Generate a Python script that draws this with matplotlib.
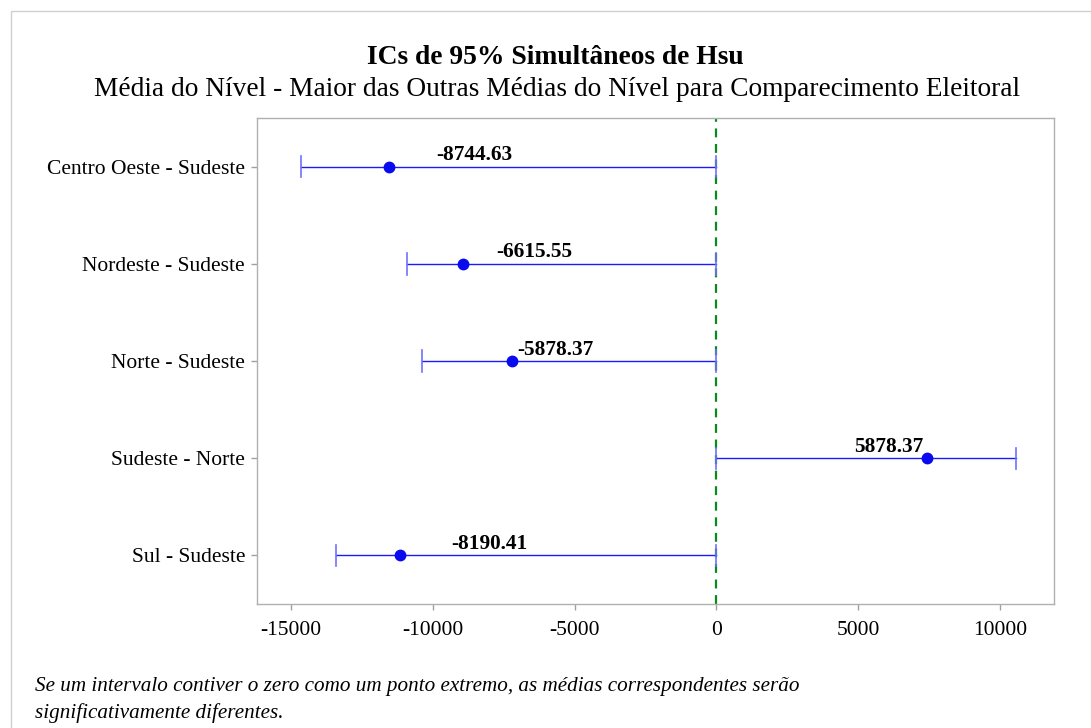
import matplotlib
matplotlib.use("Agg")
import matplotlib.pyplot as plt
from matplotlib.patches import Rectangle

# Hsu simultaneous 95% intervals: level mean minus the largest of the other means
comparisons = ["Centro Oeste - Sudeste", "Nordeste - Sudeste", "Norte - Sudeste",
               "Sudeste - Norte", "Sul - Sudeste"]
lower = [-14660, -10920, -10380, 0, -13410]
estimate = [-11540, -8920, -7210, 7420, -11170]
upper = [0, 0, 0, 10550, 0]
annot = [-8744.63, -6615.55, -5878.37, 5878.37, -8190.41]
xticks = [-15000, -10000, -5000, 0, 5000, 10000]

plt.rcParams["font.family"] = ["Liberation Serif", "DejaVu Serif"]

fig = plt.figure(figsize=(10.91, 7.28), dpi=100)
fig.patches.append(Rectangle((11 / 1091, -0.1), 1.2, 1 - 11 / 728 + 0.1,
                             transform=fig.transFigure, fill=False,
                             edgecolor="#d0d0d0", linewidth=1))

ax = fig.add_axes([0.2355, 0.1703, 0.7305, 0.6676])

blue = "#1a1aff"
capcol = "#6f6fff"
for i, name in enumerate(comparisons):
    ax.plot([lower[i], upper[i]], [i, i], color=blue, lw=1.0, zorder=3)
    for xe in (lower[i], upper[i]):
        ax.plot([xe, xe], [i - 0.11, i + 0.11], color=capcol, lw=1.2, zorder=3)
    ax.plot(estimate[i], i, "o", color="#0a0aee", markersize=7.5, zorder=4)
    ax.annotate(f"{annot[i]:.2f}", (annot[i], i), xytext=(4, 1),
                textcoords="offset points", ha="center", va="bottom",
                fontsize=15.3, fontweight="bold", color="black", zorder=5)

ax.axvline(0, color="#0a8a1a", lw=1.6, ls=(0, (4, 3)), zorder=2)

ax.set_xlim(-16200, 11900)
ax.set_ylim(4.5, -0.5)
ax.set_yticks(range(len(comparisons)))
ax.set_yticklabels(comparisons, fontsize=15.5)
ax.set_xticks(xticks)
ax.set_xticklabels([str(t) for t in xticks], fontsize=15.5)

for s in ax.spines.values():
    s.set_color("#b0b0b0")
    s.set_linewidth(1)
ax.tick_params(axis="both", colors="#a0a0a0", labelcolor="black", length=4, width=1)
ax.tick_params(axis="x", pad=8)
ax.tick_params(axis="y", pad=4.5)

fig.text(555 / 1091, 1 - 57 / 728, "ICs de 95% Simultâneos de Hsu", ha="center",
         va="center", fontsize=19.8, fontweight="bold")
fig.text(557 / 1091, 1 - 89 / 728,
         "Média do Nível - Maior das Outras Médias do Nível para Comparecimento Eleitoral",
         ha="center", va="center", fontsize=19.7)

fig.text(35 / 1091, 1 - 687 / 728,
         "Se um intervalo contiver o zero como um ponto extremo, as médias correspondentes serão",
         ha="left", va="center", fontsize=15.2, style="italic")
fig.text(35 / 1091, 1 - 713 / 728, "significativamente diferentes.",
         ha="left", va="center", fontsize=15.2, style="italic")

fig.savefig("out.png", dpi=100)
